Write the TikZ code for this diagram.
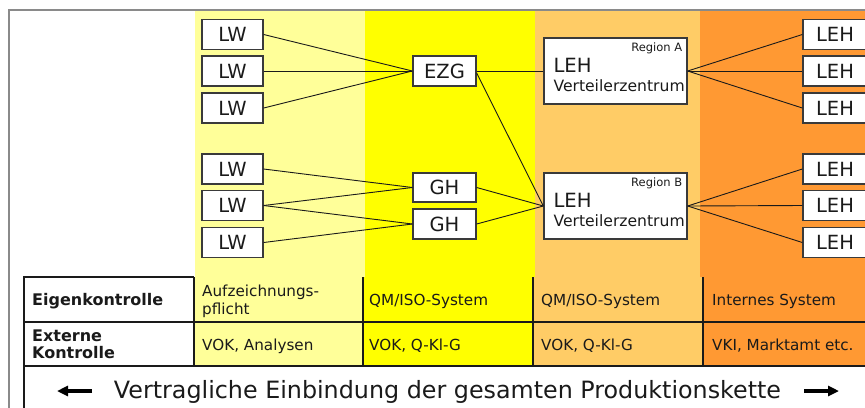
\documentclass[tikz,border=0pt]{standalone}
\usepackage{fontspec}
\setmainfont{DejaVu Sans}
\usetikzlibrary{calc,arrows.meta}
\definecolor{lyel}{HTML}{FFFF99}
\definecolor{yel}{HTML}{FFFF00}
\definecolor{lora}{HTML}{FFCC66}
\definecolor{ora}{HTML}{FF9933}
\definecolor{boxline}{HTML}{3A3A3A}
\definecolor{txt}{HTML}{1A1A1A}
\definecolor{frame}{HTML}{8A8A8A}
\begin{document}
\begin{tikzpicture}[x=1bp,y=-1bp,
  bx/.style={draw=boxline,line width=1.3bp,fill=white,inner sep=0pt,minimum width=61bp,minimum height=30bp,font=\fontsize{19.5bp}{22bp}\selectfont,text=txt},
  vz/.style={draw=boxline,line width=1.3bp,fill=white,inner sep=0pt,minimum width=143bp,minimum height=66bp},
  con/.style={draw=txt,line width=0.9bp},
  tab/.style={draw=txt,line width=1.1bp},
  celltxt/.style={anchor=base west,inner sep=0pt,text=txt,font=\fontsize{15.2bp}{18bp}\selectfont},
  boldtxt/.style={anchor=base west,inner sep=0pt,text=txt,font=\bfseries\fontsize{16bp}{18bp}\selectfont},
  regtxt/.style={anchor=base east,inner sep=0pt,text=txt,font=\fontsize{11.5bp}{13bp}\selectfont},
  lehtxt/.style={anchor=base west,inner sep=0pt,text=txt,font=\fontsize{19.6bp}{22bp}\selectfont},
  vztxt/.style={anchor=base west,inner sep=0pt,text=txt,font=\fontsize{15.6bp}{18bp}\selectfont},
  bigarrow/.style={draw=black,line width=3.2bp,-{Triangle[length=11bp,width=10bp]}}
]
\useasboundingbox (0,0) rectangle (865,407);
\clip (0,0) rectangle (865,407);
\fill[white] (0,0) rectangle (865,407);
% colour bands
\fill[lyel] (195,10) rectangle (365,277);
\fill[yel] (365,10) rectangle (535,277);
\fill[lora] (535,10) rectangle (700,277);
\fill[ora] (700,10) rectangle (870,277);
\fill[lyel] (194,277) rectangle (363,366);
\fill[yel] (363,277) rectangle (533,366);
\fill[lora] (533,277) rectangle (703,366);
\fill[ora] (703,277) rectangle (870,366);
% outer frame
\draw[frame,line width=2bp] (9,410) -- (9,10) -- (870,10);
% table lines
\draw[tab] (24,410) -- (24,277) -- (194,277);
\draw[tab] (24,322) -- (870,322);
\draw[tab] (24,366) -- (870,366);
\draw[tab] (194,277) -- (194,366);
\draw[tab] (363,277) -- (363,366);
\draw[tab] (533,277) -- (533,366);
\draw[tab] (703,277) -- (703,366);
% nodes
\node[bx] (lw1) at (232.5,34.5) {LW};
\node[bx] (lw2) at (232.5,71) {LW};
\node[bx] (lw3) at (232.5,108) {LW};
\node[bx] (lw4) at (232.5,169) {LW};
\node[bx] (lw5) at (232.5,205.5) {LW};
\node[bx] (lw6) at (232.5,242.5) {LW};
\node[bx,minimum width=63bp] (ezg) at (444.5,71) {EZG};
\node[bx,minimum width=63bp,minimum height=29bp] (gh1) at (444.5,187.5) {GH};
\node[bx,minimum width=63bp] (gh2) at (444.5,224) {GH};
\node[vz] (vza) at (615.5,71) {};
\node[vz] (vzb) at (615.5,206) {};
\node[regtxt] (rega) at ($(vza.north east)+(-5.3,14.3)$) {Region A};
\node[lehtxt] (leha) at ($(vza.north west)+(10,34.7)$) {LEH};
\node[vztxt] (vzta) at ($(vza.north west)+(10,53.7)$) {Verteilerzentrum};
\node[regtxt] (regb) at ($(vzb.north east)+(-5.3,14.3)$) {Region B};
\node[lehtxt] (lehb) at ($(vzb.north west)+(10,34.7)$) {LEH};
\node[vztxt] (vztb) at ($(vzb.north west)+(10,53.7)$) {Verteilerzentrum};
\node[bx,minimum width=64bp] (r1) at (835,34.5) {LEH};
\node[bx,minimum width=64bp] (r2) at (835,71) {LEH};
\node[bx,minimum width=64bp] (r3) at (835,108) {LEH};
\node[bx,minimum width=64bp] (r4) at (835,169) {LEH};
\node[bx,minimum width=64bp] (r5) at (835,205.5) {LEH};
\node[bx,minimum width=64bp] (r6) at (835,242.5) {LEH};
% connectors
\begin{scope}[on background layer/.style={}]
\draw[con] (lw1.east) -- (ezg.west);
\draw[con] (lw2.east) -- (ezg.west);
\draw[con] (lw3.east) -- (ezg.west);
\draw[con] (lw4.east) -- (gh1.west);
\draw[con] (lw5.east) -- (gh1.west);
\draw[con] (lw5.east) -- (gh2.west);
\draw[con] (lw6.east) -- (gh2.west);
\draw[con] (ezg.east) -- (vza.west);
\draw[con] ($(ezg.east)+(0,2)$) -- (vzb.west);
\draw[con] (gh1.east) -- (vzb.west);
\draw[con] (gh2.east) -- (vzb.west);
\draw[con] (vza.east) -- (r1.west);
\draw[con] (vza.east) -- (r2.west);
\draw[con] (vza.east) -- (r3.west);
\draw[con] (vzb.east) -- (r4.west);
\draw[con] (vzb.east) -- (r5.west);
\draw[con] (vzb.east) -- (r6.west);
\end{scope}
% table texts
\node[boldtxt] (eigen) at (32,305) {Eigenkontrolle};
\node[boldtxt] (ext1) at (32,341) {Externe};
\node[boldtxt] (ext2) at (32,358.5) {Kontrolle};
\node[celltxt] (auf1) at (202,296) {Aufzeichnungs-};
\node[celltxt] (auf2) at (202,314) {pflicht};
\node[celltxt] (qm1) at (369,305.5) {QM/ISO-System};
\node[celltxt] (qm2) at (541,305.5) {QM/ISO-System};
\node[celltxt] (intern) at (712,305.5) {Internes System};
\node[celltxt] (vok1) at (202,350.5) {VOK, Analysen};
\node[celltxt] (vok2) at (369,350.5) {VOK, Q-Kl-G};
\node[celltxt] (vok3) at (541,350.5) {VOK, Q-Kl-G};
\node[celltxt] (vki) at (712,350.5) {VKI, Marktamt etc.};
% bottom line
\node[anchor=base,inner sep=0pt,text=txt,font=\fontsize{23.8bp}{28bp}\selectfont] (chain) at (447.5,398) {Vertragliche Einbindung der gesamten Produktionskette};
\coordinate (la1) at (92,391);
\coordinate (la2) at (57,391);
\coordinate (ra1) at (804,391);
\coordinate (ra2) at (839,391);
\draw[bigarrow] (la1) -- (la2);
\draw[bigarrow] (ra1) -- (ra2);
\end{tikzpicture}
\end{document}
